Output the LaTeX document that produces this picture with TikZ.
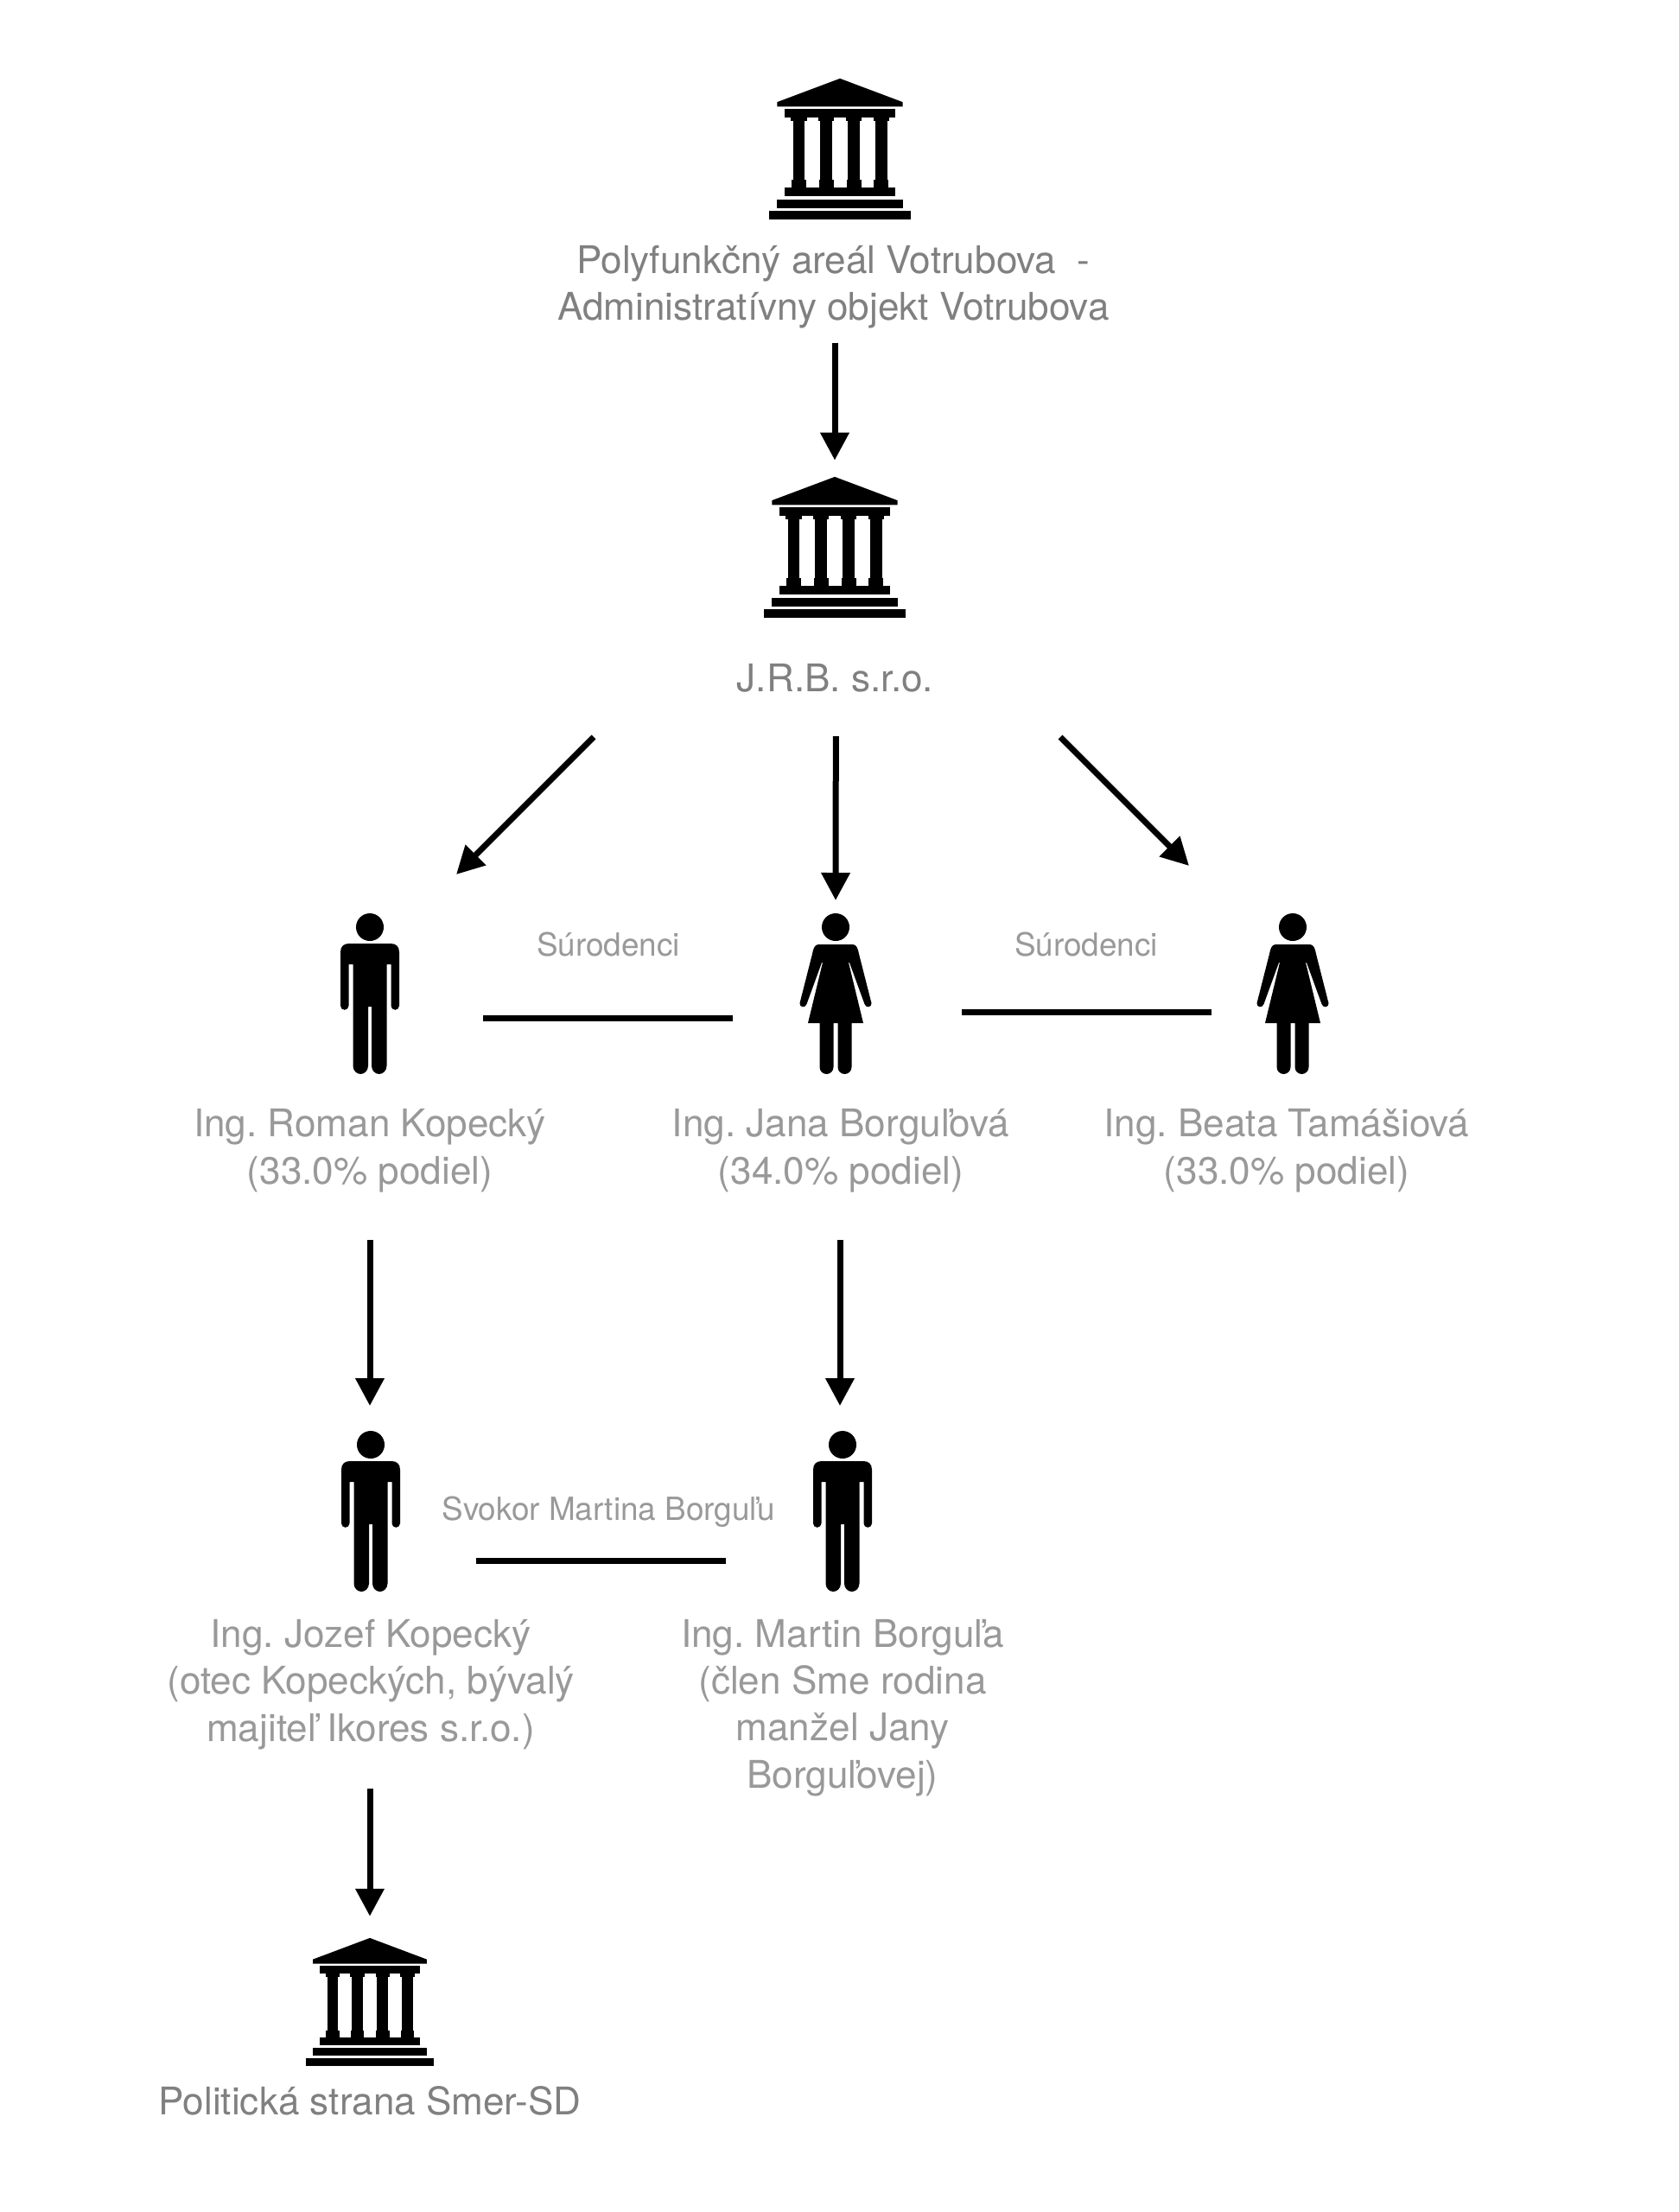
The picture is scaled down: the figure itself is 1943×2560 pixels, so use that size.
\documentclass[tikz,border=0pt]{standalone}
\usepackage{fontspec}
\setmainfont{TeX Gyre Heros}
\usetikzlibrary{arrows.meta}
\frenchspacing

\definecolor{orggray}{HTML}{808080}
\definecolor{namegray}{HTML}{999999}

\tikzset{
    orgtext/.style={anchor=base, inner sep=0pt, align=center, text=orggray, font=\fontsize{44.1}{54.3}\selectfont},
    nametext/.style={anchor=base, inner sep=0pt, align=center, text=namegray, font=\fontsize{44.1}{54.3}\selectfont},
    reltext/.style={anchor=base, inner sep=0pt, text=namegray, font=\fontsize{36.9}{44}\selectfont},
    flow/.style={line width=7pt, -{Triangle[length=32pt,width=32pt]}},
    link/.style={line width=7pt},
    iconbox/.style={inner sep=0pt, outer sep=0pt, anchor=south, transform shape},
    pics/temple/.style={code={
        \node [iconbox, minimum width=163.6pt, minimum height=163.3pt] (-box) at (0,0) {};
        \begin{scope}[x=0.478pt, y=0.333pt]
            \fill (-171,0) rectangle (171,31);
            \fill (-152,40) rectangle (152,70);
            \fill (-133,80) rectangle (133,110);
            \foreach \col in {-99.5,-33,34,100} {
                \fill ({\col-14.5},110) rectangle ({\col+14.5},354);
                \fill ({\col-18},110) rectangle ({\col+18},137);
                \fill ({\col-19},342) rectangle ({\col+19},354);
            }
            \fill (-133,354) rectangle (133,384);
            \fill (-152,392) -- (152,392) -- (152,408) -- (0,490) -- (-152,408) -- cycle;
        \end{scope}
    }},
    pics/man/.style={code={
        \node [iconbox, minimum width=68pt, minimum height=186pt] (-box) at (0,0) {};
        \fill (0,170) circle [radius=16];
        \fill (-34,141) .. controls (-34,148) and (-30,151) .. (-24,151) -- (24,151)
            .. controls (30,151) and (34,148) .. (34,141) -- (34,79)
            arc [start angle=0, end angle=-180, radius=4.75] -- (24.5,127) -- (19.5,127) -- (19.5,9.5)
            arc [start angle=0, end angle=-180, x radius=8.75, y radius=9.5] -- (2,78) -- (-2,78) -- (-2,9.5)
            arc [start angle=0, end angle=-180, x radius=8.75, y radius=9.5] -- (-19.5,127) -- (-24.5,127) -- (-24.5,79)
            arc [start angle=0, end angle=-180, radius=4.75] -- cycle;
    }},
    pics/woman/.style={code={
        \node [iconbox, minimum width=83pt, minimum height=186pt] (-box) at (0,0) {};
        \fill (0,170) circle [radius=16];
        \fill (-20,150) -- (20,150) .. controls (24,150) and (26,145) .. (27,139) -- (41.5,82)
            .. controls (42,77) and (35,76) .. (33.5,81) -- (16,129) -- (15,129) -- (32,59) -- (18.5,59) -- (18.5,8)
            arc [start angle=0, end angle=-180, radius=8] -- (2.5,59) -- (-2.5,59) -- (-2.5,8)
            arc [start angle=0, end angle=-180, radius=8] -- (-18.5,59) -- (-32,59) -- (-15,129) -- (-16,129) -- (-33.5,81)
            .. controls (-35,76) and (-42,77) .. (-41.5,82) -- (-27,139) .. controls (-26,145) and (-24,150) .. (-20,150) -- cycle;
    }},
}

\begin{document}
\begin{tikzpicture}[x=1pt, y=1pt]
    \useasboundingbox (0,0) rectangle (1943,-2560);

    % companies
    \pic (votrubova) at (972,-254) {temple};
    \pic (jrb) at (966,-715) {temple};
    \pic [scale=0.908] (smer) at (428,-2391) {temple};
    \node [orgtext] (votrubovatext) at ([xshift=-7.5pt, yshift=-116.5pt]votrubova-box.south) {Polyfunkčný areál Votrubova~ -\\Administratívny objekt Votrubova};
    \node [orgtext] (jrbtext) at ([xshift=0.5pt, yshift=-85pt]jrb-box.south) {J.R.B. s.r.o.};
    \node [orgtext] (smertext) at ([yshift=-56pt]smer-box.south) {Politická strana Smer-SD};

    % people
    \pic (kopecky) at (428,-1243) {man};
    \pic (jana) at (967,-1243) {woman};
    \pic (tamasiova) at (1496,-1243) {woman};
    \pic (jozef) at (429,-1842) {man};
    \pic (martin) at (975,-1842) {man};
    \node [nametext] (kopeckytext) at ([yshift=-127pt]kopecky-box.south) {Ing. Roman Kopecký\\(33.0\% podiel)};
    \node [nametext] (janatext) at ([xshift=6pt, yshift=-127pt]jana-box.south) {Ing. Jana Borguľová\\(34.0\% podiel)};
    \node [nametext] (tamasiovatext) at ([xshift=-7pt, yshift=-127pt]tamasiova-box.south) {Ing. Beata Tamášiová\\(33.0\% podiel)};
    \node [nametext] (jozeftext) at ([yshift=-173pt]jozef-box.south) {Ing. Jozef Kopecký\\(otec Kopeckých, bývalý\\majiteľ Ikores s.r.o.)};
    \node [nametext] (martintext) at ([yshift=-227pt]martin-box.south) {Ing. Martin Borguľa\\(člen Sme rodina\\manžel Jany\\Borguľovej)};

    % relations
    \node [reltext] (surodenci-a) at (704,-1106) {Súrodenci};
    \node [reltext] (surodenci-b) at (1257,-1106) {Súrodenci};
    \node [reltext] (svokor) at (704,-1759) {Svokor Martina Borguľu};
    \draw [link, shorten <=97pt, shorten >=77.5pt] ([yshift=-28pt]kopecky-box.east) -- ([yshift=-28pt]jana-box.west);
    \draw [link, shorten <=104pt, shorten >=52.5pt] ([yshift=-21pt]jana-box.east) -- ([yshift=-21pt]tamasiova-box.west);
    \draw [link, shorten <=87.5pt, shorten >=101pt] ([yshift=-57pt]jozef-box.east) -- ([yshift=-57pt]martin-box.west);

    % ownership arrows
    \draw [flow, shorten <=17pt, shorten >=19pt] ([xshift=1.5pt]votrubovatext.south) -- (jrb-box.north);
    \draw [flow, shorten <=51pt, shorten >=15pt] ([xshift=0.9pt]jrbtext.south) -- (jana-box.north);
    \draw [flow] ([xshift=-279.5pt, yshift=-52pt]jrbtext.south) -- ([xshift=100pt, yshift=45pt]kopecky-box.north);
    \draw [flow] ([xshift=260.5pt, yshift=-52pt]jrbtext.south) -- ([xshift=-120pt, yshift=55pt]tamasiova-box.north);
    \draw [flow, shorten <=55pt, shorten >=29pt] (kopeckytext.south) -- ([xshift=-1pt]jozef-box.north);
    \draw [flow, shorten <=55pt, shorten >=29pt] ([xshift=-1pt]janatext.south) -- ([xshift=-3pt]martin-box.north);
    \draw [flow, shorten <=45pt, shorten >=25pt] ([xshift=-1pt]jozeftext.south) -- (smer-box.north);
\end{tikzpicture}
\end{document}
